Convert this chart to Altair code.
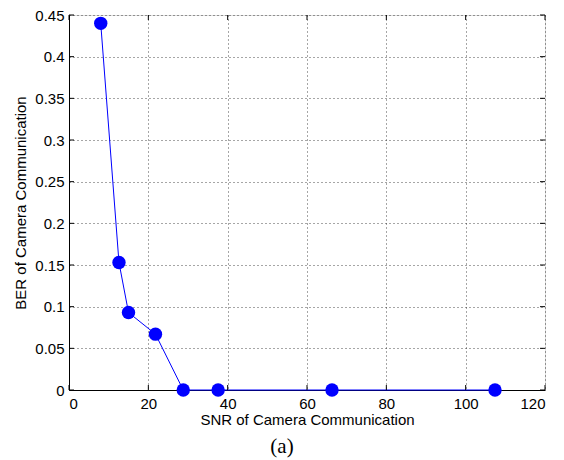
import altair as alt
import pandas as pd

snr = [8.0, 12.6, 15.0, 21.8, 28.8, 37.6, 66.3, 107.4]
ber = [0.44, 0.153, 0.093, 0.067, 0.0, 0.0, 0.0, 0.0]
x_ticks = [0, 20, 40, 60, 80, 100, 120]
y_ticks = [0, 0.05, 0.1, 0.15, 0.2, 0.25, 0.3, 0.35, 0.4, 0.45]

df = pd.DataFrame({"snr": snr, "ber": ber})

xs = alt.Scale(domain=[0, 120], nice=False, zero=False)
ys = alt.Scale(domain=[0, 0.45], nice=False, zero=False)

common = dict(grid=True, gridDash=[1, 3], gridColor="#000", gridOpacity=0.7,
              tickSize=0, domainColor="#000", labelColor="#000", titleColor="#000",
              labelFont="Liberation Sans", labelFontSize=15,
              titleFont="Liberation Sans", titleFontSize=15, titleFontWeight="normal")

x_enc = alt.X("snr:Q", scale=xs, axis=alt.Axis(
    values=x_ticks, title="SNR of Camera Communication", format="d",
    labelPadding=6, titlePadding=1, **common))
y_enc = alt.Y("ber:Q", scale=ys, axis=alt.Axis(
    values=y_ticks, title="BER of Camera Communication", format="~g",
    labelPadding=5, titlePadding=6, **common))

line = alt.Chart(df).mark_line(color="#0000ff", strokeWidth=1).encode(x=x_enc, y=y_enc)
pts = alt.Chart(df).mark_circle(color="#0000ff", opacity=1, size=180).encode(x="snr:Q", y="ber:Q")

# inward tick marks (MATLAB style)
xt = pd.DataFrame({"v": x_ticks})
yt = pd.DataFrame({"v": y_ticks})
xb = alt.Chart(xt).mark_rule(color="#000", strokeWidth=1).encode(
    x=alt.X("v:Q", scale=xs), y=alt.value(375), y2=alt.value(370))
xtp = alt.Chart(xt).mark_rule(color="#000", strokeWidth=1).encode(
    x=alt.X("v:Q", scale=xs), y=alt.value(0), y2=alt.value(5))
yl = alt.Chart(yt).mark_rule(color="#000", strokeWidth=1).encode(
    y=alt.Y("v:Q", scale=ys), x=alt.value(0), x2=alt.value(5))
yr = alt.Chart(yt).mark_rule(color="#000", strokeWidth=1).encode(
    y=alt.Y("v:Q", scale=ys), x=alt.value(476), x2=alt.value(471))

chart = alt.layer(line, xb, xtp, yl, yr, pts).properties(
    width=476, height=375,
    title=alt.TitleParams("(a)", orient="bottom", anchor="middle", dx=-25, offset=9,
                          font="Liberation Serif", fontSize=21, fontWeight="normal", color="#000"),
    autosize=alt.AutoSizeParams(type="none"),
    padding={"left": 61, "top": 7, "right": 11, "bottom": 70},
).configure_view(stroke="#000", strokeWidth=1.2).configure(background="white")

chart.save("out.html", embed_options={"renderer": "svg", "actions": False})
